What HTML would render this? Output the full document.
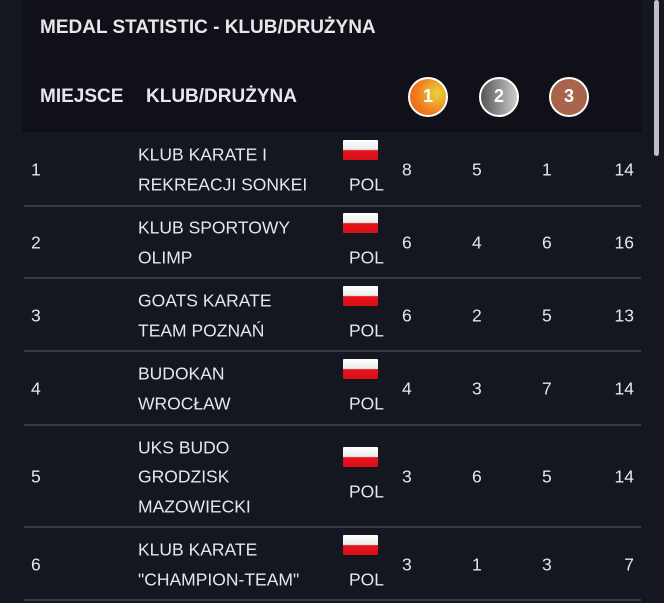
<!DOCTYPE html>
<html><head><meta charset="utf-8"><style>
*{margin:0;padding:0;box-sizing:border-box}
body{width:664px;height:603px;background:#141620;font-family:"Liberation Sans","DejaVu Sans",sans-serif;color:#e6e7ea;position:relative;overflow:hidden}
.hdr{position:absolute;left:22px;top:0;width:620px;height:132px;background:#0f1018}
.a{position:absolute;white-space:nowrap;transform:translateY(-50%);font-size:17.5px}
.b{font-weight:bold;font-size:19px}
.sep{position:absolute;left:24px;width:617px;height:2px;background:#363945}
.flag{position:absolute;left:343px;width:35px;height:20px;background:linear-gradient(#fff 0,#eee 45%,#d0d0d0 50%,#e8121c 52%,#d80f18 100%);border-radius:1px}
.med{position:absolute;width:40px;height:40px;border-radius:50%;border:2.5px solid #fff;transform:translate(-50%,-50%);color:#fff;font-weight:bold;font-size:18px;text-align:center;line-height:35px}
.sb{position:absolute;left:654px;top:0;width:5px;height:156px;background:#bfc0c4;border-radius:3px}
</style></head><body>
<div class="hdr"></div>
<div class="sb"></div>
<div class="a b" style="left:40px;top:28px">MEDAL STATISTIC - KLUB/DRUŻYNA</div>
<div class="a b" style="left:40px;top:97px">MIEJSCE</div>
<div class="a b" style="left:146px;top:97px">KLUB/DRUŻYNA</div>
<div class="med" style="left:428px;top:97px;background:radial-gradient(circle at 75% 40%,#e8d43a,#f07a20 60%,#e85a1a)">1</div>
<div class="med" style="left:499px;top:97px;background:linear-gradient(90deg,#555,#ccc)">2</div>
<div class="med" style="left:569px;top:97px;background:#a8654c">3</div>

<div id="rows"></div>
<script>
const rows=[
[169,"1",["KLUB KARATE I","REKREACJI SONKEI"],"8","5","1","14",206],
[242,"2",["KLUB SPORTOWY","OLIMP"],"6","4","6","16",278],
[315,"3",["GOATS KARATE","TEAM POZNAŃ"],"6","2","5","13",351],
[388,"4",["BUDOKAN","WROCŁAW"],"4","3","7","14",425],
[476,"5",["UKS BUDO","GRODZISK","MAZOWIECKI"],"3","6","5","14",527],
[564,"6",["KLUB KARATE","\"CHAMPION-TEAM\""],"3","1","3","7",600]];
let h="";
for(const r of rows){const c=r[0]+1;
h+=`<div class="a" style="left:31px;top:${c}px">${r[1]}</div>`;
const n=r[2].length;
r[2].forEach((t,i)=>{const y=c+(i-(n-1)/2)*29.5;h+=`<div class="a" style="left:138px;top:${y}px">${t}</div>`});
h+=`<div class="flag" style="top:${c-30}px"></div>`;
h+=`<div class="a" style="left:349px;top:${c+15}px">POL</div>`;
h+=`<div class="a" style="left:402px;top:${c}px">${r[3]}</div>`;
h+=`<div class="a" style="left:472px;top:${c}px">${r[4]}</div>`;
h+=`<div class="a" style="left:542px;top:${c}px">${r[5]}</div>`;
h+=`<div class="a" style="right:30px;top:${c}px">${r[6]}</div>`;
h+=`<div class="sep" style="top:${r[7]-1}px"></div>`;}
document.getElementById("rows").innerHTML=h;
</script>
</body></html>
